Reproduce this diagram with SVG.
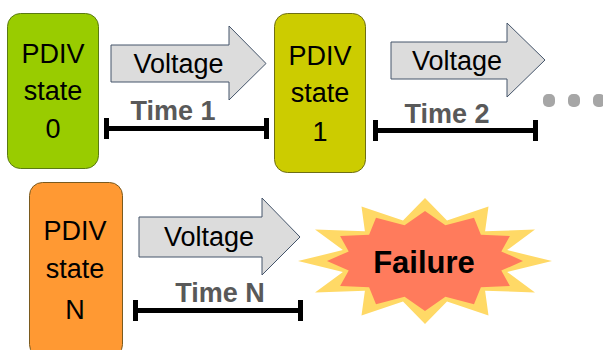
<svg xmlns="http://www.w3.org/2000/svg" width="603" height="350" viewBox="0 0 603 350">
<style>
.lbl{font-family:"Liberation Sans",Arial,sans-serif;font-size:27px;fill:#000;text-anchor:middle}
.time{font-family:"Liberation Sans",Arial,sans-serif;font-size:27px;font-weight:bold;fill:#595959;text-anchor:middle}
.arrow{fill:#dcdcdc;stroke:#44546a;stroke-width:1}
.bar{stroke:#000;stroke-width:5;fill:none}
.dot{fill:#a6a6a6}
</style>
<rect width="603" height="350" fill="#fff"/>
<g id="state0">
<rect x="7.5" y="13.5" width="91" height="155" rx="13" fill="#99cc00" stroke="#5a7a12" stroke-width="1"/>
<text class="lbl" x="53" y="63">PDIV</text>
<text class="lbl" x="53" y="100">state</text>
<text class="lbl" x="53" y="138">0</text>
</g>
<g id="state1">
<rect x="274.5" y="13.5" width="91" height="159" rx="13" fill="#cccc00" stroke="#6e6e14" stroke-width="1"/>
<text class="lbl" x="320" y="65">PDIV</text>
<text class="lbl" x="320" y="102">state</text>
<text class="lbl" x="320" y="141">1</text>
</g>
<g id="stateN">
<rect x="29.5" y="182.5" width="93" height="175" rx="13" fill="#ff9933" stroke="#7a5a1e" stroke-width="1"/>
<text class="lbl" x="75" y="240">PDIV</text>
<text class="lbl" x="75" y="278">state</text>
<text class="lbl" x="75" y="319">N</text>
</g>
<g id="failure">
<polygon fill="#ffd966" points="552,261 507.1,250.1 535,229.5 485.1,231.3 488.5,206.4 447,220.4 425,198 403,220.4 361.5,206.4 364.9,231.3 315,229.5 342.9,250.1 298,261 342.9,271.9 315,292.5 364.9,290.7 361.5,315.6 403,301.6 425,324 447,301.6 488.5,315.6 485.1,290.7 535,292.5 507.1,271.9"/>
<polygon fill="#ff7b5c" points="523,261 501.3,251.4 509.9,236 480.9,234.8 474,217.7 445.4,225.3 425,211 404.6,225.3 376,217.7 369.1,234.8 340.1,236 348.7,251.4 327,261 348.7,270.6 340.1,286 369.1,287.2 376,304.3 404.6,296.7 425,311 445.4,296.7 474,304.3 480.9,287.2 509.9,286 501.3,270.6"/>
<text x="424" y="273" font-family="'Liberation Sans',Arial,sans-serif" font-size="31" font-weight="bold" fill="#000" text-anchor="middle">Failure</text>
</g>
<g id="ellipsis">
<rect class="dot" x="543" y="94" width="12" height="13" rx="5"/>
<rect class="dot" x="568" y="94" width="12" height="13" rx="5"/>
<rect class="dot" x="593" y="94" width="12" height="13" rx="5"/>
</g>
<g id="connectors">
<polygon class="arrow" points="111,45 229,45 229,26 266,63.5 229,100 229,82 111,82"/>
<text class="lbl" x="178.5" y="73">Voltage</text>
<polygon class="arrow" points="391,42 507,42 507,23 545,60 507,97 507,79 391,79"/>
<text class="lbl" x="457" y="70">Voltage</text>
<polygon class="arrow" points="139,217 262,217 262,198 300,237 262,275 262,257 139,257"/>
<text class="lbl" x="209" y="246">Voltage</text>
<path class="bar" d="M106.5,128.5H266.5M106.5,118V139M266.5,118V139"/>
<text class="time" x="173" y="120">Time 1</text>
<path class="bar" d="M375.5,130.5H535.5M375.5,120V141M535.5,120V141"/>
<text class="time" x="447" y="123">Time 2</text>
<path class="bar" d="M135.5,310.5H300.5M135.5,300V321M300.5,300V321"/>
<text class="time" x="220" y="302">Time N</text>
</g>
</svg>
